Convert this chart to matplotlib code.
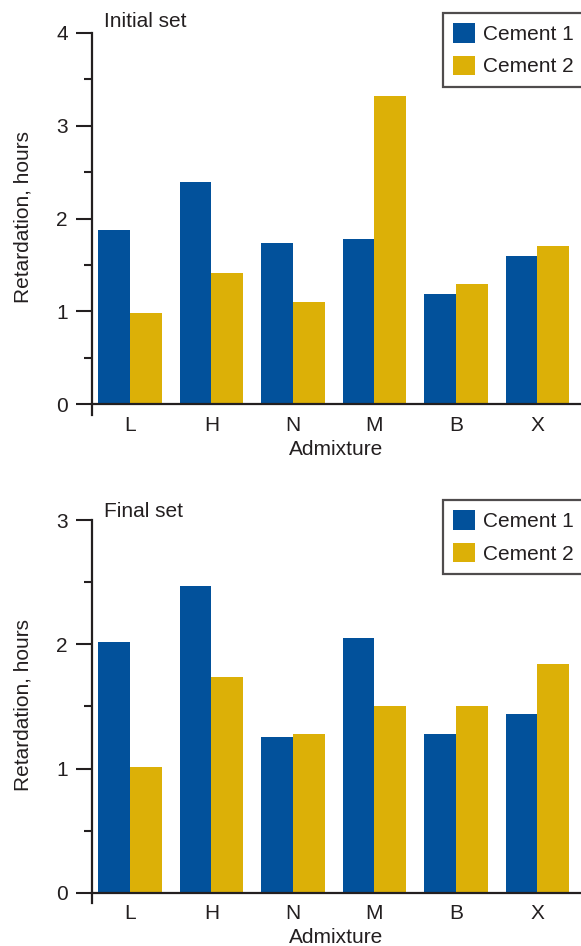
import numpy as np
import matplotlib.pyplot as plt

plt.rcParams['font.family'] = ['Liberation Sans', 'DejaVu Sans']

admixtures = ['L', 'H', 'N', 'M', 'B', 'X']
initial_cement1 = [1.88, 2.39, 1.74, 1.78, 1.19, 1.60]
initial_cement2 = [0.98, 1.41, 1.10, 3.32, 1.29, 1.70]
final_cement1 = [2.02, 2.47, 1.25, 2.05, 1.28, 1.44]
final_cement2 = [1.01, 1.74, 1.28, 1.50, 1.50, 1.84]

blue = '#02519b'
gold = '#dcb007'
ink = '#231f20'
fs = 15

fig = plt.figure(figsize=(5.81, 9.46), dpi=100)
ax1 = fig.add_axes([92/581, 1 - 415/946, 1 - 92/581, (415 - 32.7)/946])
ax2 = fig.add_axes([92/581, 1 - 902.7/946, 1 - 92/581, (902.7 - 520)/946])

x = np.arange(len(admixtures))
w = 0.39


def draw_panel(ax, c1, c2, ymax, ybot, title, title_y, label_y, legend_top):
    ax.bar(x - w/2, c1, w, color=blue, label='Cement 1')
    ax.bar(x + w/2, c2, w, color=gold, label='Cement 2')
    ax.set_xlim(-0.466, 5.534)
    ax.set_ylim(ybot, ymax)
    ax.axhline(0, color=ink, linewidth=1.6, clip_on=False)
    for s in ['top', 'right', 'bottom']:
        ax.spines[s].set_visible(False)
    ax.spines['left'].set_linewidth(1.6)
    ax.spines['left'].set_color(ink)
    ax.set_yticks(np.arange(0, ymax + 0.1, 1))
    ax.set_yticks(np.arange(0.5, ymax, 1), minor=True)
    ax.tick_params(axis='y', which='major', length=11.5, width=1.5, color=ink,
                   labelsize=fs, labelcolor=ink, pad=6)
    ax.tick_params(axis='y', which='minor', length=5.8, width=1.5, color=ink)
    ax.set_xticks(x)
    ax.set_xticklabels(admixtures)
    ax.tick_params(axis='x', length=0, labelsize=fs, labelcolor=ink, pad=1)
    ax.set_xlabel('Admixture', fontsize=fs, color=ink, labelpad=3.5)
    ax.set_ylabel('Retardation, hours', fontsize=fs, color=ink)
    ax.yaxis.set_label_coords(-0.122, label_y)
    ax.text(0.0245, title_y, title, transform=ax.transAxes, fontsize=fs,
            color=ink, va='baseline', ha='left')
    leg = ax.legend(loc='upper left', bbox_to_anchor=(443/581, legend_top),
                    bbox_transform=fig.transFigure, fontsize=fs, frameon=True,
                    fancybox=False, edgecolor=ink, borderpad=0.5,
                    handlelength=1.06, handleheight=1.06, handletextpad=0.38,
                    labelspacing=0.56, borderaxespad=0)
    leg.get_frame().set_linewidth(1.6)
    for t in leg.get_texts():
        t.set_color(ink)


draw_panel(ax1, initial_cement1, initial_cement2, 4, -0.115, 'Initial set',
           1.016, 0.518, 1 - 12.7/946)
draw_panel(ax2, final_cement1, final_cement2, 3, -0.08, 'Final set',
           1.0086, 0.517, 1 - 500/946)

fig.savefig('out.png', dpi=100)
